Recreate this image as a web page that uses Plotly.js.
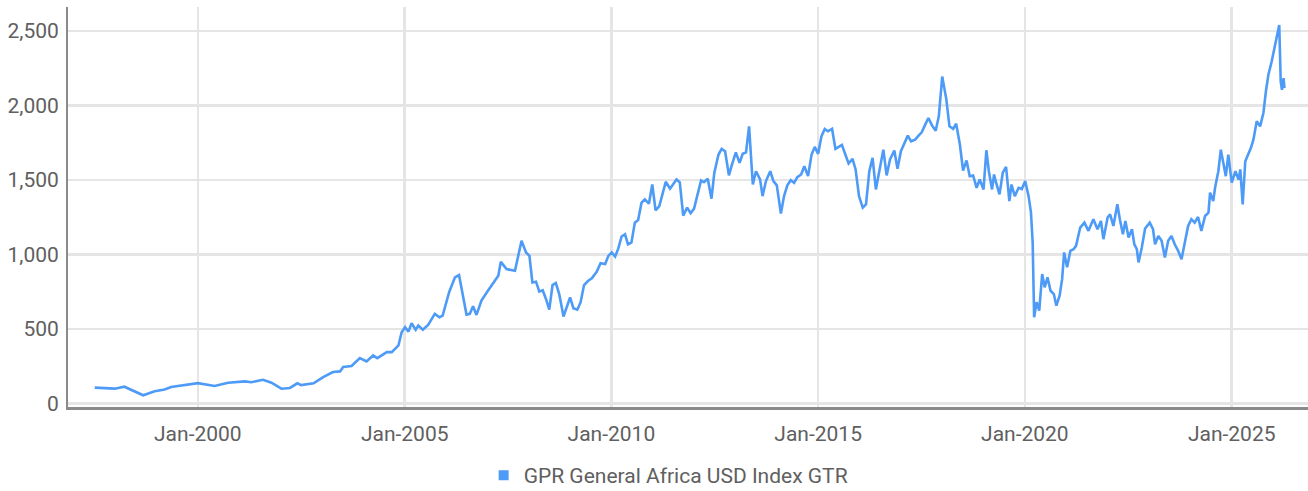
<!DOCTYPE html>
<html>
<head>
<meta charset="utf-8">
<script src="https://cdn.plot.ly/plotly-3.0.1.min.js"></script>
<style>html,body{margin:0;padding:0;background:#fff;}#chart{width:1308px;height:491px;}</style>
</head>
<body>
<div id="chart"></div>
<script>
const seriesName = "GPR General Africa USD Index GTR";
const dates = [
"1997-07-04","1997-12-28","1998-03-23","1998-06-05","1998-09-05","1998-12-16","1999-03-13","1999-05-10","1999-08-06",
"2000-01-01","2000-05-28","2000-09-24","2001-02-20","2001-04-18","2001-07-30","2001-10-12","2002-01-08","2002-03-24",
"2002-05-29","2002-07-01","2002-10-19","2003-01-12","2003-04-08","2003-06-10","2003-07-08","2003-09-20","2003-12-02",
"2004-01-30","2004-03-28","2004-05-04","2004-07-27","2004-09-09","2004-11-07","2004-12-05","2005-01-04","2005-02-03",
"2005-03-03","2005-04-08","2005-05-01","2005-06-10","2005-07-27","2005-09-24","2005-11-04","2005-12-02","2006-01-30",
"2006-03-21","2006-04-26","2006-07-01","2006-07-30","2006-08-28","2006-09-27","2006-11-10","2006-12-28","2007-04-08",
"2007-04-30","2007-06-20","2007-09-02","2007-10-30","2007-12-09","2008-01-08","2008-02-03","2008-03-06","2008-04-04",
"2008-05-04","2008-06-02","2008-07-01","2008-07-30","2008-08-28","2008-09-27","2008-11-04","2009-01-01","2009-01-30",
"2009-03-06","2009-04-04","2009-05-04","2009-06-10","2009-07-12","2009-08-24","2009-09-27","2009-11-07","2009-12-05",
"2010-01-04","2010-02-03","2010-03-03","2010-04-01","2010-05-01","2010-05-28","2010-06-27","2010-07-27","2010-08-25",
"2010-09-24","2010-10-23","2010-11-28","2010-12-28","2011-01-26","2011-02-28","2011-04-26","2011-06-03","2011-07-30",
"2011-08-28","2011-09-27","2011-11-01","2011-12-02","2012-01-01","2012-01-30","2012-03-03","2012-03-28","2012-05-01",
"2012-06-03","2012-06-28","2012-08-04","2012-09-01","2012-10-01","2012-11-04","2012-11-28","2013-01-04","2013-02-06",
"2013-03-06","2013-04-04","2013-05-01","2013-06-03","2013-07-01","2013-08-06","2013-08-28","2013-09-27","2013-11-04",
"2013-12-02","2014-01-01","2014-02-06","2014-03-06","2014-04-04","2014-05-04","2014-06-03","2014-07-01","2014-08-04",
"2014-09-01","2014-10-04","2014-11-04","2014-12-02","2015-01-01","2015-01-30","2015-02-28","2015-03-28","2015-05-04",
"2015-06-03","2015-07-30","2015-09-27","2015-11-01","2015-11-28","2015-12-28","2016-01-30","2016-02-28","2016-03-28",
"2016-04-26","2016-05-25","2016-06-24","2016-07-30","2016-08-28","2016-09-27","2016-11-04","2016-12-02","2017-01-01",
"2017-01-30","2017-03-03","2017-04-01","2017-05-07","2017-06-06","2017-07-04","2017-08-04","2017-09-01","2017-10-04",
"2017-11-04","2017-12-02","2018-01-01","2018-02-06","2018-03-06","2018-04-08","2018-05-04","2018-06-06","2018-07-04",
"2018-08-04","2018-09-01","2018-10-01","2018-11-01","2018-11-28","2019-01-01","2019-01-26","2019-02-17","2019-03-17",
"2019-04-04","2019-04-22","2019-05-22","2019-06-20","2019-07-19","2019-08-17","2019-09-05","2019-10-04","2019-11-07",
"2019-12-05","2020-01-04","2020-02-03","2020-02-24","2020-03-10","2020-03-16","2020-03-23","2020-04-14","2020-05-07",
"2020-06-02","2020-06-24","2020-07-19","2020-08-15","2020-09-13","2020-10-05","2020-11-03","2020-11-25","2020-12-13",
"2021-01-08","2021-02-06","2021-03-06","2021-03-28","2021-05-04","2021-06-10","2021-07-16","2021-08-28","2021-10-04",
"2021-11-03","2021-11-25","2022-01-01","2022-01-23","2022-02-21","2022-03-28","2022-04-19","2022-05-16","2022-06-07",
"2022-07-05","2022-08-04","2022-08-25","2022-09-16","2022-10-01","2022-10-30","2022-11-28","2023-01-08","2023-02-06",
"2023-02-24","2023-03-25","2023-04-23","2023-05-22","2023-06-20","2023-07-19","2023-08-17","2023-09-16","2023-10-16",
"2023-11-14","2023-12-13","2024-01-11","2024-02-09","2024-03-10","2024-04-08","2024-05-11","2024-06-10","2024-06-24",
"2024-07-22","2024-08-07","2024-09-05","2024-09-27","2024-10-19","2024-11-10","2024-12-02","2025-01-01","2025-02-03",
"2025-03-03","2025-03-18","2025-04-08","2025-05-01","2025-05-29","2025-06-20","2025-07-12","2025-08-10","2025-09-09",
"2025-10-08","2025-10-30","2025-11-21","2025-12-20","2026-01-19","2026-02-10","2026-02-25","2026-03-10","2026-03-21",
"2026-04-04","2026-04-12"
];
const values = [
107,100,113,89,56,83,94,111,122,
137,118,140,149,143,160,140,100,105,
136,124,136,178,212,216,245,252,305,
283,323,305,345,345,390,479,513,483,
539,495,523,495,528,602,579,590,751,
847,862,597,602,653,595,691,747,858,
951,902,891,1092,1014,991,813,818,751,
760,702,630,795,809,735,584,713,640,
630,680,795,824,840,884,942,936,991,
1014,987,1041,1121,1136,1069,1081,1214,1232,
1348,1370,1341,1470,1297,1325,1488,1442,1504,
1484,1261,1315,1277,1308,1397,1497,1486,1509,
1375,1549,1671,1709,1693,1531,1597,1686,1615,
1676,1686,1860,1470,1559,1504,1392,1493,1559,
1493,1464,1275,1392,1464,1499,1482,1519,1537,
1593,1526,1671,1722,1676,1793,1843,1827,1843,
1709,1735,1611,1642,1571,1392,1315,1337,1559,
1649,1437,1571,1704,1531,1638,1698,1575,1693,
1738,1798,1760,1771,1798,1820,1872,1916,1865,
1831,1927,2194,2043,1860,1843,1878,1738,1564,
1631,1526,1531,1448,1504,1437,1700,1559,1437,
1537,1482,1404,1549,1589,1359,1470,1392,1448,
1440,1493,1392,1281,1081,835,579,680,624,
869,780,847,757,735,657,724,835,1014,
914,1025,1036,1058,1181,1214,1159,1237,1170,
1225,1103,1248,1270,1192,1337,1237,1136,1225,
1114,1170,1069,1036,947,1047,1175,1214,1170,
1069,1125,1092,980,1092,1125,1069,1025,969,
1069,1192,1237,1214,1252,1159,1259,1281,1415,
1359,1448,1559,1704,1615,1526,1671,1482,1559,
1504,1571,1337,1626,1671,1716,1771,1894,1860,
1950,2094,2206,2295,2406,2495,2540,2161,2105,
2184,2117
];
const yTickVals = [0, 500, 1000, 1500, 2000, 2500];

const FONT = "Roboto, sans-serif";
const blue = "#4d9bf7";

const traces = [
  {x: dates, y: values, type: "scatter", mode: "lines", name: seriesName, showlegend: false,
   line: {color: blue, width: 2.6}, hoverinfo: "x+y"},
  {x: [null], y: [null], type: "scatter", mode: "markers", name: seriesName, showlegend: true,
   marker: {symbol: "square", size: 10, color: blue}}
];

const layout = {
  width: 1308, height: 491,
  margin: {l: 68, r: 0, t: 7, b: 84, autoexpand: false},
  paper_bgcolor: "#ffffff", plot_bgcolor: "#ffffff",
  font: {family: FONT, size: 21, color: "#606060"},
  separators: ".,",
  showlegend: true,
  legend: {orientation: "h", x: 0.484, xanchor: "center", y: -0.12, yanchor: "top",
           font: {family: FONT, size: 21, color: "#606060"}, itemwidth: 30, traceorder: "normal"},
  xaxis: {
    type: "date", range: ["1996-11-10", "2026-11-06"],
    tick0: "2000-01-01", dtick: "M60", tickformat: "%b-%Y",
    showgrid: true, gridcolor: "#e5e5e5", gridwidth: 2.5,
    showline: true, linecolor: "#8a8a8a", linewidth: 3,
    ticks: "outside", ticklen: 6, tickcolor: "rgba(0,0,0,0)",
    zeroline: false, fixedrange: true
  },
  yaxis: {
    range: [-23, 2661], tickvals: yTickVals, tickformat: ",d",
    showgrid: true, gridcolor: "#e5e5e5", gridwidth: 2.5,
    showline: true, linecolor: "#8a8a8a", linewidth: 2,
    ticks: "outside", ticklen: 3, tickcolor: "rgba(0,0,0,0)",
    zeroline: false, fixedrange: true
  }
};

Plotly.newPlot("chart", traces, layout, {displayModeBar: false, staticPlot: true});
</script>
</body>
</html>
